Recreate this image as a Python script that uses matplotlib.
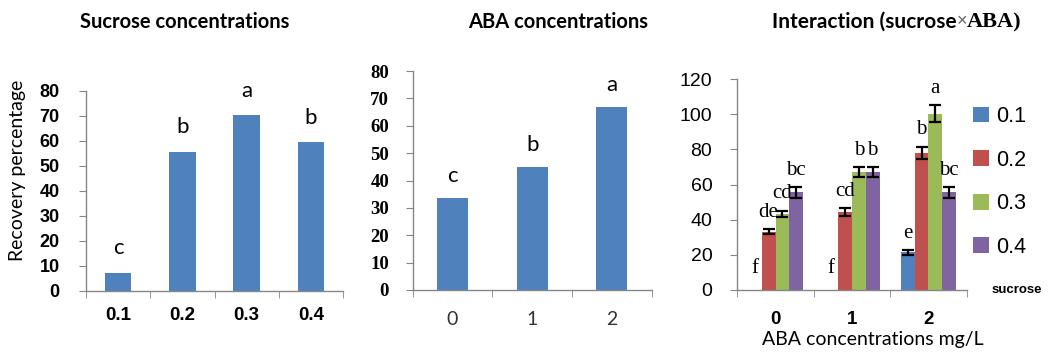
import numpy as np
import matplotlib
matplotlib.use('Agg')
import matplotlib.pyplot as plt
from matplotlib.ticker import FixedLocator, NullFormatter

# Data
sucrose = ['0.1', '0.2', '0.3', '0.4']
sucrose_vals = [7.2, 55.6, 70.3, 59.4]
sucrose_letters = ['c', 'b', 'a', 'b']

aba = ['0', '1', '2']
aba_vals = [33.5, 44.8, 66.7]
aba_letters = ['c', 'b', 'a']

# interaction: one list per sucrose level, across ABA levels
inter_vals = {
    '0.1': [0, 0, 21.5],
    '0.2': [33.2, 44.5, 78.0],
    '0.3': [43.5, 67.0, 100.3],
    '0.4': [55.5, 67.0, 55.5],
}
inter_err = {
    '0.1': [0, 0, 1.4],
    '0.2': [1.6, 2.2, 3.6],
    '0.3': [1.7, 3.0, 5.0],
    '0.4': [3.0, 3.0, 3.0],
}
inter_letters = {
    '0.1': ['f', 'f', 'e'],
    '0.2': ['de', 'cd', 'b'],
    '0.3': ['cd', 'b', 'a'],
    '0.4': ['bc', 'b', 'bc'],
}

BLUE = '#4F81BD'
colors = ['#4F81BD', '#C0504D', '#9BBB59', '#8064A2']
AXC = '#868686'

W, H = 1051, 354
fig = plt.figure(figsize=(W / 100, H / 100), dpi=100)


def px(l, b, r, t):
    return [l / W, 1 - b / H, (r - l) / W, (b - t) / H]


def style(ax, n, ypad, xpad):
    for s in ['top', 'right']:
        ax.spines[s].set_visible(False)
    for s in ['left', 'bottom']:
        ax.spines[s].set_color(AXC)
        ax.spines[s].set_linewidth(1.0)
    ax.set_xlim(-0.5, n - 0.5)
    ax.xaxis.set_minor_locator(FixedLocator(np.arange(-0.5, n, 1.0)))
    ax.xaxis.set_minor_formatter(NullFormatter())
    ax.tick_params(axis='x', which='major', length=0, pad=xpad)
    ax.tick_params(axis='x', which='minor', length=5, color=AXC, direction='out')
    ax.tick_params(axis='y', length=5, color=AXC, direction='out', pad=ypad)


# Panel 1: sucrose
ax1 = fig.add_axes(px(86, 290.7, 343, 90.7))
x1 = np.arange(len(sucrose))
ax1.bar(x1, sucrose_vals, width=0.41, color=BLUE)
style(ax1, len(sucrose), 14, 12)
ax1.set_ylim(0, 80)
yt1 = list(range(0, 81, 10))
ax1.set_yticks(yt1, labels=[str(v) for v in yt1], fontfamily='Liberation Sans',
               fontweight='bold', fontsize=13)
ax1.set_xticks(x1, labels=sucrose, fontfamily='Liberation Sans', fontweight='bold', fontsize=13.5)
for xi, v, l in zip(x1, sucrose_vals, sucrose_letters):
    ax1.text(xi, v + 9.7, l, ha='center', va='center', fontfamily='Lato', fontsize=16)
ax1.set_ylabel('Recovery percentage', fontfamily='Lato', fontsize=14)
ax1.yaxis.set_label_coords(-0.233, 0.60)
fig.text(185 / W, 1 - 22 / H, 'Sucrose concentrations', ha='center', va='center',
         fontfamily='Lato', fontweight='bold', fontsize=14.5)

# Panel 2: ABA
ax2 = fig.add_axes(px(412.7, 290, 651.7, 71))
x2 = np.arange(len(aba))
ax2.bar(x2, aba_vals, width=0.39, color=BLUE)
style(ax2, len(aba), 12, 15)
ax2.set_ylim(0, 80)
ax2.set_yticks(yt1, labels=[str(v) for v in yt1], fontfamily='Liberation Serif',
               fontweight='bold', fontsize=13.5)
ax2.set_xticks(x2, labels=aba, fontfamily='Lato', fontsize=14, color='#333333')
for xi, v, l in zip(x2, aba_vals, aba_letters):
    ax2.text(xi, v + 8.2, l, ha='center', va='center', fontfamily='Lato', fontsize=16)
fig.text(558 / W, 1 - 22 / H, 'ABA concentrations', ha='center', va='center',
         fontfamily='Lato', fontweight='bold', fontsize=14.5)

# Panel 3: interaction
ax3 = fig.add_axes(px(737.3, 290, 966.7, 79))
bw = 0.18
for i, s in enumerate(sucrose):
    xs = x2 + (i - 1.5) * bw
    vals = np.array(inter_vals[s])
    errs = np.array(inter_err[s])
    ax3.bar(xs, vals, width=bw, color=colors[i], label=s)
    has = errs > 0
    ax3.errorbar(xs[has], vals[has], yerr=errs[has], fmt='none', ecolor='black',
                 elinewidth=1.6, capsize=4.5, capthick=1.6)
    for xx, v, e, l in zip(xs, vals, errs, inter_letters[s]):
        top = max(v + e, 3)
        ax3.annotate(l, (xx, top), xytext=(0, 12), textcoords='offset points',
                     ha='center', va='center', fontfamily='Liberation Serif', fontsize=15)
style(ax3, len(aba), 13, 15)
ax3.set_ylim(0, 120)
yt3 = list(range(0, 121, 20))
ax3.set_yticks(yt3, labels=[str(v) for v in yt3], fontfamily='Liberation Sans', fontsize=14)
ax3.set_xticks(x2, labels=aba, fontfamily='Liberation Sans', fontweight='bold', fontsize=13.5)
leg = ax3.legend(loc='upper left', bbox_to_anchor=(973 / W, 1 - 106 / H),
                 bbox_transform=fig.transFigure, frameon=False, borderpad=0, borderaxespad=0,
                 prop={'family': 'Liberation Sans', 'size': 15.5},
                 handlelength=0.76, handleheight=0.76, handletextpad=0.3, labelspacing=1.05)
fig.text(992 / W, 1 - 290 / H, 'sucrose', ha='left', va='center',
         fontfamily='Liberation Sans', fontweight='bold', fontsize=9.5)
fig.text(873 / W, 1 - 340 / H, 'ABA concentrations mg/L', ha='center', va='center',
         fontfamily='Lato', fontsize=14)
# title mixes fonts
t1 = fig.text(771.7 / W, 1 - 22 / H, 'Interaction (sucrose', ha='left', va='center',
              fontfamily='Lato', fontweight='bold', fontsize=15)
fig.canvas.draw()
bb = t1.get_window_extent()
t2 = fig.text(bb.x1 / W, 1 - 22 / H, '\u00d7', ha='left', va='center',
              fontfamily='Liberation Sans', color='#666666', fontsize=13)
fig.canvas.draw()
bb = t2.get_window_extent()
fig.text(bb.x1 / W, 1 - 22 / H, 'ABA)', ha='left', va='center',
         fontfamily='Liberation Serif', fontweight='bold', fontsize=16)

fig.savefig('out.png', dpi=100)
